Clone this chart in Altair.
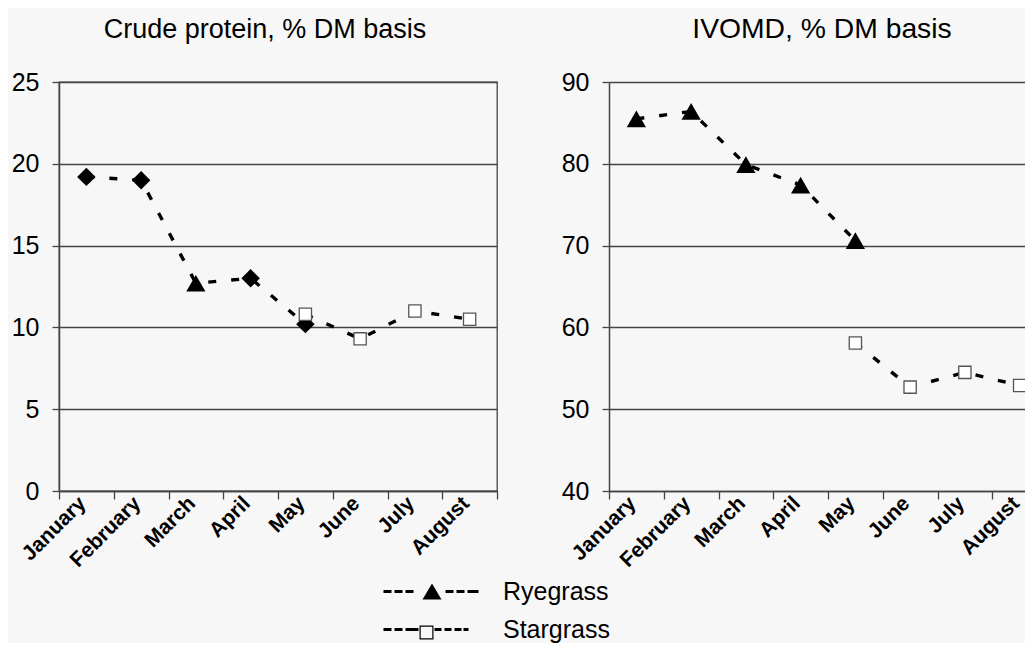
import altair as alt
import pandas as pd

# ---------------- data ----------------
months = ["January", "February", "March", "April", "May", "June", "July", "August"]
series_names = ["Ryegrass", "Stargrass"]

cp_rye_months = ["January", "February", "March", "April", "May"]
cp_rye = [19.2, 19.0, 12.7, 13.0, 10.2]
cp_star_months = ["May", "June", "July", "August"]
cp_star = [10.8, 9.3, 11.0, 10.5]

iv_rye_months = ["January", "February", "March", "April", "May"]
iv_rye = [85.5, 86.4, 79.9, 77.4, 70.6]
iv_star_months = ["May", "June", "July", "August"]
iv_star = [58.1, 52.7, 54.5, 52.9]

cp_ticks = [0, 5, 10, 15, 20, 25]
iv_ticks = [40, 50, 60, 70, 80, 90]

# marker style per ryegrass point (the source uses diamonds in the protein panel)
cp_rye_markers = ["diamond", "diamond", "triangle-up", "diamond", "diamond"]
iv_rye_markers = ["triangle-up"] * 5

FONT = "Liberation Sans"
DARK = "#444444"

# legend symbol paths (unit = 10px)
def dash(x0, x1, h=0.15):
    return f"M{x0},{-h}H{x1}V{h}H{x0}Z"

rye_path = (dash(-4.7, -3.9) + dash(-3.6, -2.8) + dash(-2.5, -1.7)
            + "M0.15,-0.8L1.1,0.8H-0.8Z"
            + dash(1.5, 2.3) + dash(2.6, 3.4) + dash(3.7, 4.8))
star_path = (dash(-4.7, -3.9) + dash(-3.6, -2.8) + dash(-2.5, -1.2)
             + "M-1.1,-0.4H0.3V1.0H-1.1Z M-0.98,-0.28V0.88H0.18V-0.28Z"
             + dash(0.4, 1.1) + dash(1.4, 2.1) + dash(2.4, 3.1) + dash(3.3, 3.8))


def panel(rye_m, rye_v, rye_mark, star_m, star_v, ydom, yvals, title, tsize,
          dx, border, with_legend):
    rye_df = pd.DataFrame({"month": rye_m, "value": rye_v, "marker": rye_mark})
    star_df = pd.DataFrame({"month": star_m, "value": star_v})

    x = alt.X("month:N", sort=months,
              scale=alt.Scale(type="band", domain=months, paddingInner=0,
                              paddingOuter=0),
              axis=alt.Axis(title=None, labelAngle=-45, labelAlign="right",
                            labelBaseline="middle", labelFontSize=21,
                            labelFontWeight="bold", labelFont=FONT,
                            labelColor="black", tickBand="extent", tickSize=8,
                            tickColor=DARK, tickWidth=1.3, domainColor=DARK,
                            domainWidth=1.5, grid=False, labelPadding=1,
                            labelOffset=-4))
    y = alt.Y("value:Q",
              scale=alt.Scale(domain=ydom, nice=False, zero=False),
              axis=alt.Axis(title=None, values=yvals, labelFontSize=25,
                            labelFont=FONT, labelColor="black", tickSize=7,
                            tickColor=DARK, tickWidth=1.3, domainColor=DARK,
                            domainWidth=1.5, gridColor=DARK, gridWidth=1.3,
                            labelPadding=13))

    line_kw = dict(color="black", strokeWidth=3.4, strokeDash=[8, 15])
    layers = [alt.Chart(rye_df).mark_line(**line_kw).encode(x=x, y=y),
              alt.Chart(star_df).mark_line(**line_kw).encode(x=x, y=y)]
    sizes = {"diamond": 340, "triangle-up": 370}
    for shp in dict.fromkeys(rye_mark):
        layers.append(
            alt.Chart(rye_df).transform_filter(alt.datum.marker == shp)
            .mark_point(shape=shp, filled=True, color="black", size=sizes[shp],
                        opacity=1)
            .encode(x=x, y=y))
    layers.append(
        alt.Chart(star_df).mark_point(shape="square", filled=True, fill="white",
                                      stroke="#555555", strokeWidth=1.3,
                                      size=150, opacity=1)
        .encode(x=x, y=y))

    if with_legend:
        leg_df = pd.DataFrame({"series": series_names})
        layers.append(
            alt.Chart(leg_df).transform_filter("false")
            .mark_point(filled=True, color="black", opacity=1)
            .encode(shape=alt.Shape(
                "series:N",
                scale=alt.Scale(domain=series_names, range=[rye_path, star_path]),
                legend=alt.Legend(title=None, orient="none", legendX=359,
                                  legendY=497, direction="vertical",
                                  labelFontSize=25, labelFont=FONT,
                                  labelColor="black", symbolSize=400,
                                  symbolStrokeWidth=0, symbolFillColor="black",
                                  labelOffset=60, rowPadding=12, padding=0))))

    return alt.layer(*layers).properties(
        width=438, height=409,
        title=alt.TitleParams(title, fontSize=tsize, font=FONT,
                              fontWeight="normal", color="black",
                              anchor="middle", frame="group", dx=dx, offset=26),
        view=alt.ViewBackground(stroke=border, strokeWidth=1.3, fill="transparent"),
    )


left = panel(cp_rye_months, cp_rye, cp_rye_markers, cp_star_months, cp_star,
             [0, 25], cp_ticks, "Crude protein, % DM basis", 27, -13, DARK, True)
right = panel(iv_rye_months, iv_rye, iv_rye_markers, iv_star_months, iv_star,
              [40, 90], iv_ticks, "IVOMD, % DM basis", 28.3, -6, "transparent",
              False)

# the source picture is cropped on its right edge
chart = alt.hconcat(left, right, spacing=61).configure(
    background="#f7f7f7",
    padding={"left": 2, "top": 6, "right": -24, "bottom": 0},
)

chart.save("out.html", embed_options={"renderer": "svg", "actions": False})
